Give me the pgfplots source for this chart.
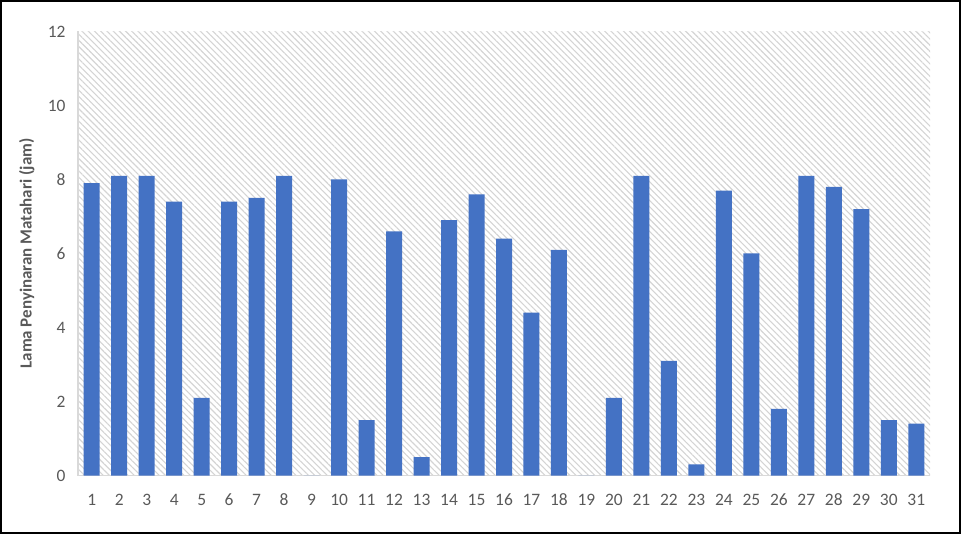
\documentclass[border=0pt]{standalone}
\usepackage{pgfplots}
\pgfplotsset{compat=1.18}
\usetikzlibrary{patterns.meta}
\usepackage{fontspec}
\setmainfont{Carlito}

\definecolor{barblue}{HTML}{4472C4}
\definecolor{txtgray}{HTML}{595959}
\definecolor{axgray}{HTML}{D9D9D9}
\definecolor{hatch}{HTML}{D4D4D4}

\begin{document}
\begin{tikzpicture}
  \begin{axis}[
    name=ax,
    scale only axis,
    width=852bp, height=444bp,
    at={(0,0)}, anchor=south west,
    xmin=0.5, xmax=31.5,
    ymin=0, ymax=12,
    xtick={1,...,31},
    ytick={0,2,...,12},
    major tick length=0pt,
    axis lines*=left,
    axis line style={-, draw=axgray, line width=1.5bp},
    axis background/.style={pattern={Lines[angle=-45,distance=4.4bp,line width=1.1bp]}, pattern color=hatch},
    ticklabel style={font=\fontsize{17.5}{20}\selectfont, text=txtgray},
    /pgf/number format/assume math mode=true,
    xticklabel style={anchor=base, yshift=-30bp},
    yticklabel style={xshift=-9bp},
    ylabel={Lama Penyinaran Matahari (jam)},
    ylabel style={at={(axis description cs:-0.06,0.5)}, anchor=center,
      font=\fontsize{17}{20}\selectfont\bfseries, text=txtgray},
    ybar, bar width=16bp,
  ]
    \addplot[fill=barblue, draw=none] coordinates {
      (1,7.9) (2,8.1) (3,8.1) (4,7.4) (5,2.1) (6,7.4) (7,7.5) (8,8.1)
      (9,0) (10,8.0) (11,1.5) (12,6.6) (13,0.5) (14,6.9) (15,7.6) (16,6.4)
      (17,4.4) (18,6.1) (19,0) (20,2.1) (21,8.1) (22,3.1) (23,0.3) (24,7.7)
      (25,6.0) (26,1.8) (27,8.1) (28,7.8) (29,7.2) (30,1.5) (31,1.4)
    };
  \end{axis}
  \draw[black, line width=2.5bp]
    ([xshift=-76.75bp, yshift=-57.25bp]ax.south west) rectangle
    ([xshift=29.75bp, yshift=30.25bp]ax.north east);
\end{tikzpicture}
\end{document}
